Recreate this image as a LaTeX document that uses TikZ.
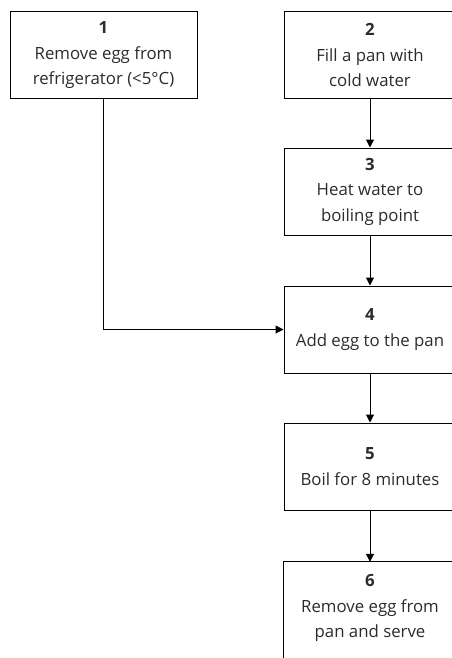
\documentclass[tikz,border=0pt]{standalone}
\usepackage{fontspec}
\setmainfont{Open Sans}
\usetikzlibrary{arrows.meta}
\definecolor{txt}{HTML}{2B2B2B}
\tikzset{
  stepbox/.style={draw=black, line width=1pt, minimum height=87pt, inner sep=0pt,
    align=center, text=txt, font=\fontsize{16.8}{25.5}\selectfont},
  plainbox/.style={minimum height=92pt, minimum width=172pt, inner sep=0pt,
    align=center, text=txt, font=\fontsize{16.8}{25.5}\selectfont},
  conn/.style={line width=1pt, -{Triangle[length=8pt,width=8pt]}}
}
\begin{document}
\begin{tikzpicture}[x=1pt,y=-1pt]
\useasboundingbox (0,0) rectangle (452,658);
\clip (0,0) rectangle (452,658);
\node[stepbox, minimum width=187pt] (b1) at (103.5,55.5) {\textbf{1}\\Remove egg from\\refrigerator (<5°C)};
\node[stepbox, minimum width=172pt] (b2) at (370,55) {\textbf{2}\\Fill a pan with\\cold water};
\node[stepbox, minimum width=172pt] (b3) at (370,191.5) {\textbf{3}\\Heat water to\\boiling point};
\node[stepbox, minimum width=172pt] (b4) at (370,329.5) {\textbf{4}\\Add egg to the pan};
\node[stepbox, minimum width=172pt] (b5) at (370,466.5) {\textbf{5}\\Boil for 8 minutes};
\node[plainbox] (b6) at (370,608) {\textbf{6}\\Remove egg from\\pan and serve};
\draw[line width=1pt] ([yshift=-30pt]b6.south west) -- (b6.north west) -- (b6.north east) -- ([yshift=-30pt]b6.south east);
\draw[conn] (b2) -- (b3);
\draw[conn] (b3) -- (b4);
\draw[conn] (b4) -- (b5);
\draw[conn] (b5) -- (b6);
\draw[conn] (b1.south) |- (b4.west);
\end{tikzpicture}
\end{document}
